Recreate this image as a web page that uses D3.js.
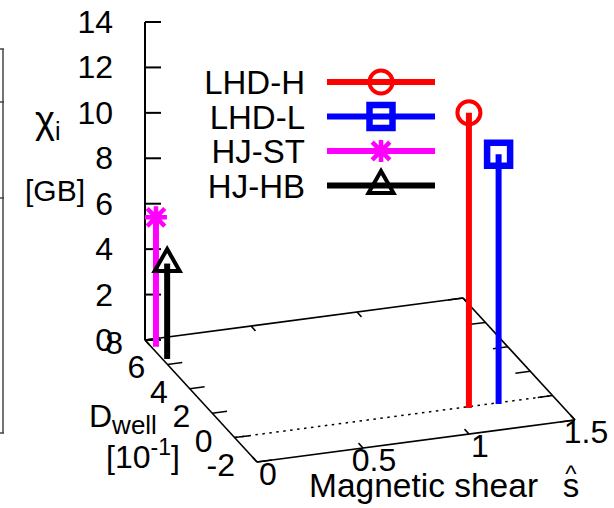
<!DOCTYPE html>
<html>
<head>
<meta charset="utf-8">
<script src="https://cdn.jsdelivr.net/npm/d3@7"></script>
<style>
  body { margin: 0; background: #fff; }
  text { font-family: "Liberation Sans", Arial, sans-serif; fill: #000; }
</style>
</head>
<body>
<svg id="chart" width="614" height="508"></svg>
<script>
// values
var series = ["LHD-H", "LHD-L", "HJ-ST", "HJ-HB"];
var shear = [1.10, 1.24, 0.02, 0.02];     // s-hat
var dwell = [-0.1, -0.1, 7.4, 6.4];       // D_well [10^-1]
var chi = [13.0, 11.0, 5.7, 4.2];         // chi_i [GB]
var zTicks = [0, 2, 4, 6, 8, 10, 12, 14];
var sTicks = [0, 0.5, 1, 1.5];
var dTicks = [8, 6, 4, 2, 0, -2];

var color = d3.scaleOrdinal().domain(series).range(["#ff0000", "#0000ff", "#ff00ff", "#000000"]);
var shape = d3.scaleOrdinal().domain(series).range(["circle", "square", "star", "triangle"]);

var svg = d3.select("#chart");

// projected 3d axes: origin is s=0, D=-2, z=0
var ox = 257, oy = 462;
var sx = d3.scaleLinear().domain([0, 1.5]).range([0, 318]);
var sy = d3.scaleLinear().domain([0, 1.5]).range([0, -42]);
var dx = d3.scaleLinear().domain([-2, 8]).range([0, -112]);
var dy = d3.scaleLinear().domain([-2, 8]).range([0, -122]);
var zy = d3.scaleLinear().domain([0, 14]).range([0, -318]);

function proj(s, D, z) {
  return [ox + sx(s) + dx(D), oy + sy(s) + dy(D) + zy(z || 0)];
}
function seg(g, a, b, w) {
  return g.append("line")
    .attr("x1", a[0]).attr("y1", a[1]).attr("x2", b[0]).attr("y2", b[1])
    .attr("stroke", "#000").attr("stroke-width", w || 1.6);
}

// piece of the neighbouring panel frame on the left
var left = svg.append("g").attr("stroke", "#444").attr("stroke-width", 1.5);
left.append("line").attr("x1", 3).attr("y1", 49).attr("x2", 3).attr("y2", 433);
[49, 102, 198, 433].forEach(function (y) {
  left.append("line").attr("x1", 0).attr("y1", y).attr("x2", 4).attr("y2", y);
});

var box = svg.append("g");
// base box
seg(box, proj(0, -2), proj(1.5, -2));
seg(box, proj(1.5, -2), proj(1.5, 8));
seg(box, proj(1.5, 8), proj(0, 8));
seg(box, proj(0, 8), proj(0, -2));
// zero line at D = 0
seg(box, proj(0, 0), proj(1.5, 0), 1.5).attr("stroke-dasharray", "2.5,4.5");

// s ticks on front and back edges
sTicks.forEach(function (s) {
  seg(box, proj(s, -2), proj(s, -1.6), 1.5);
  seg(box, proj(s, 8), proj(s, 7.6), 1.5);
  var p = proj(s, -2);
  box.append("text").attr("x", p[0] + 11).attr("y", p[1] + 23)
    .attr("text-anchor", "middle").attr("font-size", 32).text(d3.format("")(s));
});
// D ticks on left and right edges
dTicks.forEach(function (D) {
  seg(box, proj(0, D), proj(0.07, D), 1.5);
  seg(box, proj(1.5, D), proj(1.43, D), 1.5);
  var p = proj(0, D);
  box.append("text").attr("x", p[0] - 22).attr("y", p[1] + 14)
    .attr("text-anchor", "end").attr("font-size", 32).text(D);
});
// z axis at the back-left corner
seg(box, proj(0, 8, 0), proj(0, 8, 14), 2);
zTicks.forEach(function (z) {
  var p = proj(0, 8, z);
  seg(box, p, [p[0] + 16, p[1]], 2);
  box.append("text").attr("x", 113).attr("y", p[1] + 11)
    .attr("text-anchor", "end").attr("font-size", 32).text(z);
});

// axis titles
var zt = svg.append("text").attr("x", 35).attr("y", 133).attr("font-size", 38);
zt.append("tspan").text("\u03c7");
zt.append("tspan").attr("font-size", 25).attr("dy", 7).text("i");
svg.append("text").attr("x", 25).attr("y", 201).attr("font-size", 30).text("[GB]");

var dt = svg.append("text").attr("x", 89).attr("y", 427).attr("font-size", 32);
dt.append("tspan").text("D");
dt.append("tspan").attr("font-size", 26).attr("dy", 7).text("well");
var du = svg.append("text").attr("x", 106).attr("y", 468).attr("font-size", 32);
du.append("tspan").text("[10");
du.append("tspan").attr("font-size", 23).attr("dy", -13).text("-1");
du.append("tspan").attr("dy", 13).text("]");

svg.append("text").attr("x", 309).attr("y", 497).attr("font-size", 33.5).text("Magnetic shear");
svg.append("text").attr("x", 571).attr("y", 497).attr("text-anchor", "middle").attr("font-size", 33).text("s");
svg.append("text").attr("x", 571).attr("y", 482).attr("text-anchor", "middle").attr("font-size", 24).text("^");

// markers
function marker(g, kind, x, y, c) {
  if (kind === "circle") {
    g.append("circle").attr("cx", x).attr("cy", y).attr("r", 11.5)
      .attr("fill", "none").attr("stroke", c).attr("stroke-width", 4);
  } else if (kind === "square") {
    g.append("rect").attr("x", x - 11.5).attr("y", y - 11.5).attr("width", 23).attr("height", 23)
      .attr("fill", "none").attr("stroke", c).attr("stroke-width", 6.5);
  } else if (kind === "star") {
    var r = 11, q = r * 0.8;
    g.append("path")
      .attr("d", "M" + (x - r) + "," + y + "H" + (x + r) + "M" + x + "," + (y - r) + "V" + (y + r) +
        "M" + (x - q) + "," + (y - q) + "L" + (x + q) + "," + (y + q) +
        "M" + (x - q) + "," + (y + q) + "L" + (x + q) + "," + (y - q))
      .attr("stroke", c).attr("stroke-width", 4.5).attr("fill", "none");
  } else {
    g.append("path")
      .attr("d", "M" + x + "," + (y - 14.5) + "L" + (x + 12.5) + "," + (y + 7.5) + "L" + (x - 12.5) + "," + (y + 7.5) + "Z")
      .attr("fill", "none").attr("stroke", c).attr("stroke-width", 4).attr("stroke-linejoin", "miter");
  }
}

// impulses
var marks = svg.append("g");
series.forEach(function (name, i) {
  var b = proj(shear[i], dwell[i], 0), t = proj(shear[i], dwell[i], chi[i]);
  marks.append("line").attr("x1", b[0]).attr("y1", b[1]).attr("x2", t[0]).attr("y2", t[1])
    .attr("stroke", color(name)).attr("stroke-width", 6);
  marker(marks, shape(name), t[0], t[1], color(name));
});

// legend
var legend = svg.append("g");
series.forEach(function (name, i) {
  var y = 82 + i * 34.5;
  legend.append("text").attr("x", 305).attr("y", y + 12).attr("text-anchor", "end")
    .attr("font-size", 33).text(name);
  legend.append("line").attr("x1", 327).attr("x2", 435).attr("y1", y).attr("y2", y)
    .attr("stroke", color(name)).attr("stroke-width", 6);
  marker(legend, shape(name), 381, y, color(name));
});
</script>
</body>
</html>
